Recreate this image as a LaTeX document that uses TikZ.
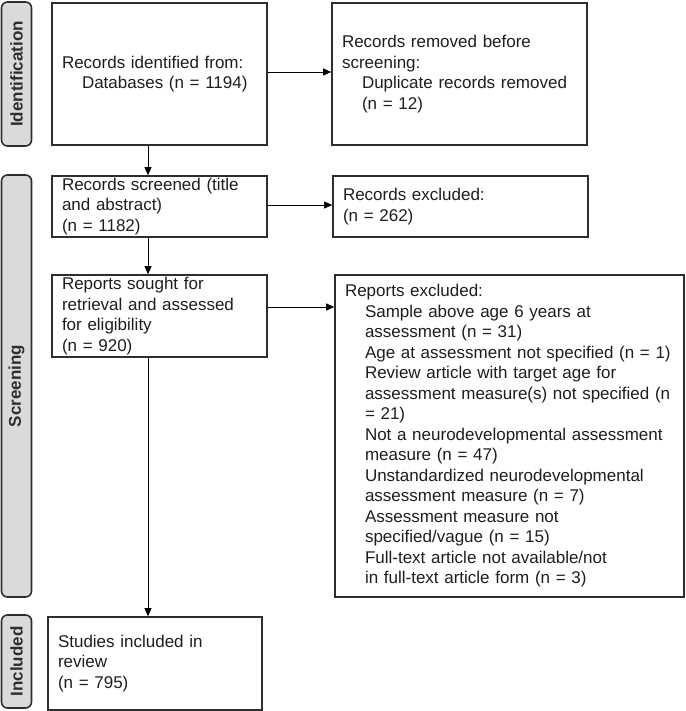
\documentclass[tikz,border=0pt]{standalone}
\usepackage{fontspec}
\setmainfont{Liberation Sans}
\usetikzlibrary{arrows.meta}
\definecolor{edge}{HTML}{2E2E2E}
\definecolor{sidefill}{HTML}{DADADC}
\definecolor{txt}{HTML}{1E1E1E}
\begin{document}
\begin{tikzpicture}[x=1pt,y=-1pt,
  box/.style={draw=edge,line width=1.6pt,fill=white,inner xsep=10pt,inner ysep=0pt,
    align=left,text=txt,font=\fontsize{17}{20.5}\selectfont},
  side/.style={draw=edge,line width=1.6pt,fill=sidefill,rounded corners=6pt,rotate=90,
    minimum height=30pt,inner sep=0pt,text=edge,font=\fontsize{17}{20}\selectfont\bfseries},
  arr/.style={draw=black,line width=0.8pt,-{Triangle[length=8pt,width=7pt]}}]
\useasboundingbox (0,0) rectangle (685,711);
% side labels
\node[side,minimum width=144pt] (sid) at (16.5,74) {Identification};
\node[side,minimum width=422pt] (sscr) at (16.5,386) {Screening};
\node[side,minimum width=93pt] (sinc) at (16.5,661.5) {Included};
% boxes
\node[box,minimum height=142pt,text width=195pt] (A) at (159.5,74)
  {Records identified from:\\\hspace*{20pt}Databases (n = 1194)};
\node[box,minimum height=142pt,text width=235pt] (B) at (459.5,74)
  {Records removed before\\screening:\\\hspace*{20pt}Duplicate records removed\\\hspace*{20pt}(n = 12)};
\node[box,minimum height=61pt,text width=195pt] (C) at (159.5,206.5)
  {Records screened (title\\and abstract)\\(n = 1182)};
\node[box,minimum height=61pt,text width=235pt] (D) at (460.5,206.5)
  {Records excluded:\\(n = 262)};
\node[box,minimum height=82pt,text width=195pt] (E) at (159.5,316)
  {Reports sought for\\retrieval and assessed\\for eligibility\\(n = 920)};
\node[box,minimum height=322pt,text width=329pt] (F) at (509.5,436)
  {Reports excluded:\\
  \hspace*{20pt}Sample above age 6 years at\\
  \hspace*{20pt}assessment (n = 31)\\
  \hspace*{20pt}Age at assessment not specified (n = 1)\\
  \hspace*{20pt}Review article with target age for\\
  \hspace*{20pt}assessment measure(s) not specified (n\\
  \hspace*{20pt}= 21)\\
  \hspace*{20pt}Not a neurodevelopmental assessment\\
  \hspace*{20pt}measure (n = 47)\\
  \hspace*{20pt}Unstandardized neurodevelopmental\\
  \hspace*{20pt}assessment measure (n = 7)\\
  \hspace*{20pt}Assessment measure not\\
  \hspace*{20pt}specified/vague (n = 15)\\
  \hspace*{20pt}Full-text article not available/not\\
  \hspace*{20pt}in full-text article form (n = 3)};
\node[box,minimum height=93pt,text width=194pt] (G) at (155,663.5)
  {Studies included in\\review\\(n = 795)};
% connectors
\coordinate (vx) at (148,0);
\coordinate (h1) at (0,72);
\coordinate (h2) at (0,205);
\coordinate (h3) at (0,307);
\draw[arr] (A.south -| vx) -- (C.north -| vx);
\draw[arr] (C.south -| vx) -- (E.north -| vx);
\draw[arr] (E.south -| vx) -- (G.north -| vx);
\draw[arr] (A.east |- h1) -- (B.west |- h1);
\draw[arr] (C.east |- h2) -- (D.west |- h2);
\draw[arr] (E.east |- h3) -- (F.west |- h3);
\end{tikzpicture}
\end{document}
